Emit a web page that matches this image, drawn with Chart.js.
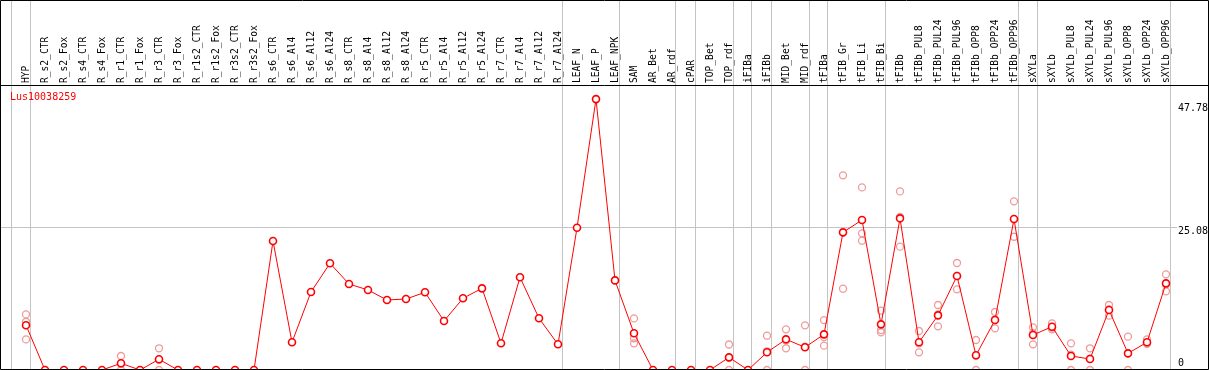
<!DOCTYPE html>
<html>
<head>
<meta charset="utf-8">
<script src="https://cdn.jsdelivr.net/npm/chart.js@4.4.1/dist/chart.umd.min.js"></script>
<style>
  html, body { margin: 0; padding: 0; background: #fff; }
  #wrap { width: 1209px; height: 370px; }
</style>
</head>
<body>
<div id="wrap"><canvas id="chart" width="1209" height="370"></canvas></div>
<script>
const geneName = 'Lus10038259';

const categories = [
  'HYP', 'R_s2_CTR', 'R_s2_Fox', 'R_s4_CTR', 'R_s4_Fox', 'R_r1_CTR', 'R_r1_Fox', 'R_r3_CTR', 'R_r3_Fox',
  'R_r1s2_CTR', 'R_r1s2_Fox', 'R_r3s2_CTR', 'R_r3s2_Fox', 'R_s6_CTR', 'R_s6_Al4', 'R_s6_Al12', 'R_s6_Al24',
  'R_s8_CTR', 'R_s8_Al4', 'R_s8_Al12', 'R_s8_Al24', 'R_r5_CTR', 'R_r5_Al4', 'R_r5_Al12', 'R_r5_Al24',
  'R_r7_CTR', 'R_r7_Al4', 'R_r7_Al12', 'R_r7_Al24', 'LEAF_N', 'LEAF_P', 'LEAF_NPK', 'SAM', 'AR_Bet', 'AR_rdf',
  'cPAR', 'TOP_Bet', 'TOP_rdf', 'iFIBa', 'iFIBb', 'MID_Bet', 'MID_rdf', 'tFIBa', 'tFIB_Gr', 'tFIB_Li', 'tFIB_Bi',
  'tFIBb', 'tFIBb_PUL8', 'tFIBb_PUL24', 'tFIBb_PUL96', 'tFIBb_OPP8', 'tFIBb_OPP24', 'tFIBb_OPP96',
  'sXYLa', 'sXYLb', 'sXYLb_PUL8', 'sXYLb_PUL24', 'sXYLb_PUL96', 'sXYLb_OPP8', 'sXYLb_OPP24', 'sXYLb_OPP96'
];

// mean expression per sample
const meanValues = [
  7.9, 0, 0, 0, 0, 1.18, 0, 1.89, 0, 0,
  0, 0, 0, 22.75, 4.89, 13.76, 18.82, 15.17, 14.11, 12.35,
  12.52, 13.7, 8.64, 12.65, 14.4, 4.71, 16.35, 9.12, 4.53, 25.08,
  47.78, 15.8, 6.47, 0, 0, 0, 0, 2.23, 0, 3.12,
  5.41, 4.0, 6.29, 24.28, 26.46, 8.05, 26.75, 4.89, 9.64, 16.58,
  2.59, 8.82, 26.63, 6.17, 7.64, 2.47, 1.94, 10.58, 2.94, 4.89,
  15.28
];

// replicates (null = none visible)
const repHigh = [
  9.8, null, null, null, null, 2.47, null, 3.83, null, null,
  null, null, null, null, null, null, null, null, null, null,
  null, null, null, null, null, null, null, null, null, null,
  null, null, 9.1, null, null, null, null, 4.5, null, 6.05,
  7.17, 7.88, 8.8, 34.33, 32.2, 10.46, 31.5, 6.88, 11.46, 18.87,
  5.29, 10.23, 29.75, 7.52, 8.23, 4.7, 3.83, 11.46, 5.88, 5.41,
  16.87
];
const repMid = [
  8.5, null, null, null, null, 1.1, null, 1.8, null, null,
  null, null, null, null, null, null, null, null, null, null,
  null, null, null, null, null, null, null, null, null, null,
  null, null, 5.6, null, null, null, null, 2.2, null, 3.3,
  5.2, 4.1, 5.8, 24.2, 24.1, 7.05, 27.0, 4.7, 9.8, 16.6,
  2.5, 8.9, 26.6, 6.5, 7.5, 2.7, 2.0, 10.7, 2.9, 4.7,
  15.1
];
const repLow = [
  5.4, null, null, null, null, 0, null, 0, null, null,
  null, null, null, null, null, null, null, null, null, null,
  null, null, null, null, null, null, null, null, null, null,
  null, null, 4.7, null, null, null, null, 0, null, 0,
  3.83, 0, 4.29, 14.34, 22.8, 6.64, 21.75, 3.12, 7.7, 14.23,
  0, 7.35, 23.5, 4.53, 7.17, 0, 0, 9.58, 0, 4.6,
  13.87
];

const yTicks = [0, 25.08, 47.78];
// separator line drawn just after these sample indexes
const groupEnds = [-1, 0, 28, 31, 34, 35, 37, 38, 39, 41, 42, 45, 52, 53, 60];

const GRID = '#c4c4c4';
const MONO = '"DejaVu Sans Mono", "Liberation Mono", monospace';
const SEP_SHIFT = 4 / 19;

function toPoints(arr) {
  const pts = [];
  arr.forEach((v, i) => { if (v !== null) pts.push({ x: i, y: v }); });
  return pts;
}

const repStyle = {
  showLine: false,
  pointRadius: 3.5,
  pointBorderWidth: 1.3,
  pointBorderColor: '#f09a9a',
  pointBackgroundColor: 'rgba(0,0,0,0)',
  pointHoverRadius: 3.5,
  clip: false
};

const framePlugin = {
  id: 'frame',
  afterDraw(chart) {
    const { ctx, chartArea } = chart;
    ctx.save();
    ctx.strokeStyle = '#000';
    ctx.lineWidth = 1;
    ctx.beginPath();
    ctx.rect(0.5, 0.5, chart.width - 1, chartArea.bottom - 1);
    ctx.moveTo(0, chartArea.top + 0.5);
    ctx.lineTo(chart.width, chartArea.top + 0.5);
    ctx.stroke();
    ctx.fillStyle = '#ff0000';
    ctx.font = '10px ' + MONO;
    ctx.textBaseline = 'top';
    ctx.fillText(geneName, 10, 92);
    ctx.restore();
  }
};

new Chart(document.getElementById('chart'), {
  type: 'line',
  data: {
    datasets: [
      {
        data: toPoints(meanValues),
        borderColor: '#ff0000',
        borderWidth: 1,
        tension: 0,
        pointRadius: 3.5,
        pointBorderWidth: 1.6,
        pointBorderColor: '#ff0000',
        pointBackgroundColor: '#ffffff',
        clip: false
      },
      { data: toPoints(repHigh), ...repStyle },
      { data: toPoints(repMid), ...repStyle },
      { data: toPoints(repLow), ...repStyle }
    ]
  },
  options: {
    responsive: false,
    devicePixelRatio: 1,
    animation: false,
    layout: { autoPadding: false, padding: { left: 1, right: 1, top: 0, bottom: 0 } },
    plugins: { legend: { display: false }, tooltip: { enabled: false } },
    scales: {
      x: {
        type: 'linear',
        position: 'top',
        min: -25 / 19,
        max: 60 + 5 / 19,
        afterBuildTicks: (scale) => {
          const ticks = categories.map((_, i) => ({ value: i }));
          groupEnds.forEach(g => ticks.push({ value: g + SEP_SHIFT }));
          scale.ticks = ticks;
        },
        afterFit: (scale) => {
          scale.height = 85;
          scale.paddingLeft = 0;
          scale.paddingRight = 0;
        },
        border: { display: false },
        grid: {
          drawTicks: true,
          tickLength: 85,
          lineWidth: 1,
          color: (c) => (c.tick && !Number.isInteger(c.tick.value)) ? GRID : 'rgba(0,0,0,0)'
        },
        ticks: {
          autoSkip: false,
          minRotation: 90,
          maxRotation: 90,
          padding: -83,
          labelOffset: 12,
          color: '#000',
          font: { family: MONO, size: 9.6 },
          callback: (v) => Number.isInteger(v) ? categories[v] : ''
        }
      },
      y: {
        type: 'linear',
        position: 'right',
        min: 0,
        max: 285 / 5.67,
        afterBuildTicks: (scale) => {
          scale.ticks = yTicks.map(v => ({ value: v }));
        },
        afterFit: (scale) => {
          scale.width = 37;
          scale.paddingTop = 0;
          scale.paddingBottom = 0;
        },
        border: { display: false },
        grid: {
          drawTicks: true,
          tickLength: 6,
          lineWidth: 1,
          color: (c) => (c.tick && c.tick.value > 0 && c.tick.value < 40) ? GRID : 'rgba(0,0,0,0)'
        },
        ticks: {
          padding: 1,
          labelOffset: 4,
          color: '#000',
          font: { family: MONO, size: 10, lineHeight: '11px' },
          callback: (v) => {
            if (v === 0) return ['0', '', ''];
            if (v === yTicks[yTicks.length - 1]) return ['', v.toFixed(2)];
            return v.toFixed(2);
          }
        }
      }
    }
  },
  plugins: [framePlugin]
});
</script>
</body>
</html>
